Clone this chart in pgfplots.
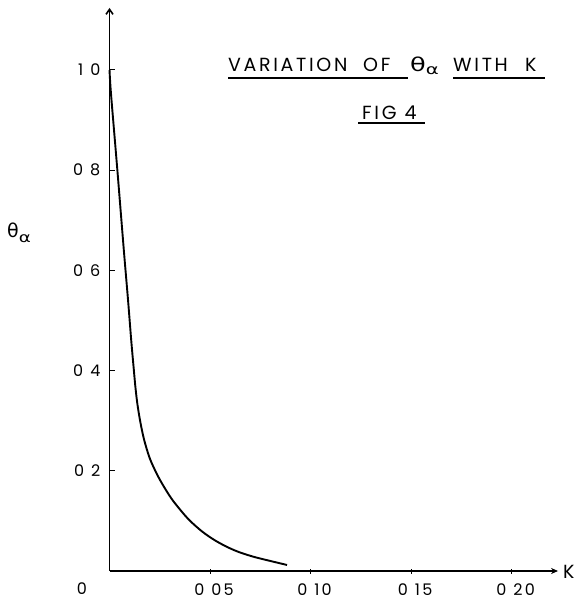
\documentclass[border=0pt]{standalone}
\usepackage{fontspec}
\setmainfont{Poppins}[LetterSpace=14]
\newfontfamily\grk{DejaVu Sans}
\usepackage{graphicx}
\usepackage{pgfplots}
\usepackage{pgfplotstable}
\pgfplotsset{compat=1.18}
\usetikzlibrary{arrows.meta}

% theta_alpha against K
\pgfplotstableread{
K       theta
0       1.000
0.0007  0.954
0.0039  0.800
0.0071  0.641
0.0092  0.541
0.0108  0.460
0.0119  0.410
0.0128  0.370
0.0138  0.335
0.0152  0.300
0.0172  0.262
0.0201  0.224
0.0240  0.190
0.0280  0.162
0.0320  0.138
0.0391  0.104
0.0460  0.079
0.0525  0.061
0.0590  0.047
0.0649  0.037
0.0720  0.028
0.0800  0.020
0.0883  0.012
}\curvedata

\newcommand{\thtitle}{{\grk\fontsize{19bp}{19bp}\selectfont\scalebox{1.35}[1]{θ}\raisebox{-0.3ex}{\fontsize{14bp}{14bp}\selectfont\scalebox{1.4}[1]{α}}}}
\newcommand{\thylab}{{\grk\fontsize{19bp}{19bp}\selectfont θ\raisebox{-0.45ex}{\fontsize{14bp}{14bp}\selectfont\scalebox{1.3}[1]{α}}}}
\newcommand{\lab}{\fontsize{19bp}{21bp}\selectfont}
\newcommand{\tks}{\fontsize{16bp}{18bp}\selectfont}
\newcommand{\gap}{\hspace{7bp}}

\begin{document}
\begin{tikzpicture}
\begin{axis}[
  scale only axis,
  width=448.5bp, height=563bp,
  xmin=0, xmax=0.2231, ymin=0, ymax=1.1238,
  axis x line=bottom, axis y line=left,
  x axis line style={line width=1.6bp, -{Stealth[length=7bp,width=6bp]}},
  y axis line style={line width=1.6bp, -{Straight Barb[length=5bp,width=7bp]}},
  every tick/.style={black, line width=1bp},
  major tick length=5bp,
  xtick align=center, ytick align=inside,
  xtick={0.05,0.1,0.15,0.2},
  xticklabels={0\gap05,0\gap10,0\gap15,0\gap20},
  ytick={0.2,0.4,0.6,0.8,1.0},
  yticklabels={0\gap2,0\gap4,0\gap6,0\gap8,1\gap0},
  xticklabel style={anchor=north, inner sep=0pt, xshift=4bp, yshift=-10bp},
  yticklabel style={anchor=east, inner sep=0pt, xshift=-9bp},
  tick label style={font=\tks},
  clip=false,
]
\addplot[black, line width=1.9bp, smooth, tension=0.5] table[x=K, y=theta] {\curvedata};
\coordinate (bbl) at (axis cs:-0.05448,-0.06387);
\coordinate (btr) at (axis cs:0.23657,1.1397);
\coordinate (tl) at (axis cs:-0.05448,1.1397);
\end{axis}
\pgfresetboundingbox
\path[use as bounding box] (bbl) rectangle (btr);

\begin{scope}[every node/.style={inner sep=0pt, font=\lab}]
\node[anchor=west] at ([xshift=228bp,yshift=-65bp]tl) {VARIATION};
\node[anchor=west] at ([xshift=363bp,yshift=-65bp]tl) {OF};
\node[anchor=west] at ([xshift=410bp,yshift=-66bp]tl) {\thtitle};
\node[anchor=west] at ([xshift=453bp,yshift=-65bp]tl) {WITH};
\node[anchor=west] at ([xshift=525bp,yshift=-65bp]tl) {K};
\node[anchor=west] at ([xshift=362bp,yshift=-113bp]tl) {FIG\hspace{8bp}4};
\node[anchor=west] at ([xshift=7bp,yshift=-233bp]tl) {\thylab};
\node at ([xshift=82bp,yshift=-589bp]tl) {\tks 0};
\node[anchor=west] at ([xshift=563bp,yshift=-572bp]tl) {K};
\end{scope}
\draw[line width=1.6bp] ([xshift=228bp,yshift=-78bp]tl) -- ([xshift=408bp,yshift=-78bp]tl);
\draw[line width=1.6bp] ([xshift=453bp,yshift=-78bp]tl) -- ([xshift=545bp,yshift=-78bp]tl);
\draw[line width=1.6bp] ([xshift=358bp,yshift=-123bp]tl) -- ([xshift=425bp,yshift=-123bp]tl);
\end{tikzpicture}
\end{document}
